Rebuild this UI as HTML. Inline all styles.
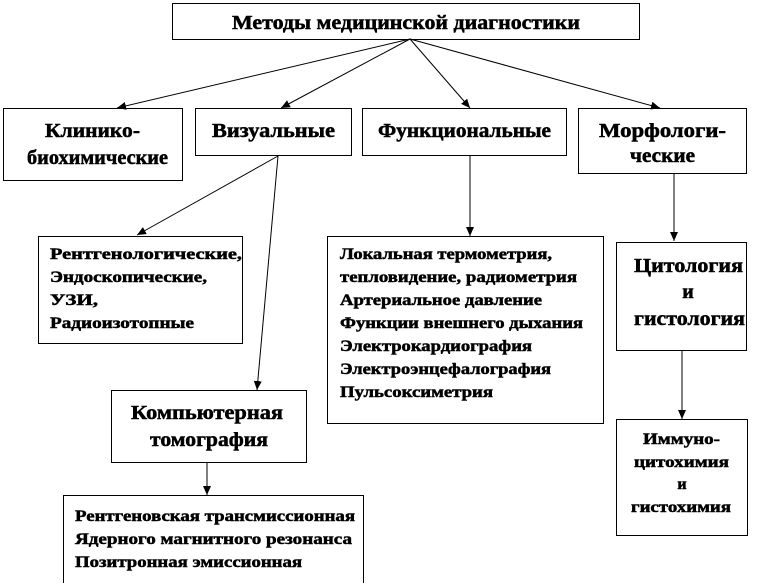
<!DOCTYPE html>
<html><head><meta charset="utf-8"><style>
html,body{margin:0;padding:0;background:#fff;}
svg text{font-family:"Liberation Serif","DejaVu Serif",serif;font-weight:bold;fill:#000;stroke:#000;stroke-width:0.5;}
.b{font-size:20px;}
.s{font-size:16px;}
</style></head><body>
<svg width="762" height="583" viewBox="0 0 762 583" xmlns="http://www.w3.org/2000/svg">
<defs><marker id="a" markerWidth="10" markerHeight="10" refX="9" refY="4" orient="auto" markerUnits="userSpaceOnUse"><path d="M0,0 L9,4 L0,8 z" fill="#000"/></marker></defs>
<g fill="#fff" stroke="#000" stroke-width="1">
<rect x="172.5" y="3.5" width="467" height="36"/>
<rect x="3.5" y="108.5" width="179" height="72"/>
<rect x="195.5" y="108.5" width="156" height="47"/>
<rect x="362.5" y="108.5" width="204" height="47"/>
<rect x="578.5" y="108.5" width="168" height="65"/>
<rect x="38.5" y="236.5" width="204" height="107"/>
<rect x="327.5" y="236.5" width="276" height="187"/>
<rect x="616.5" y="242.5" width="130" height="108"/>
<rect x="111.5" y="390.5" width="195" height="72"/>
<rect x="63.5" y="495.5" width="300" height="95"/>
<rect x="616.5" y="419.5" width="131" height="116"/>
</g>
<g stroke="#000" stroke-width="1" fill="none" marker-end="url(#a)">
<line x1="410" y1="39" x2="117" y2="108"/>
<line x1="410" y1="39" x2="281" y2="108"/>
<line x1="410" y1="39" x2="470" y2="108"/>
<line x1="410" y1="39" x2="660" y2="108"/>
<line x1="278" y1="156" x2="137" y2="235"/>
<line x1="278" y1="156" x2="257" y2="390"/>
<line x1="470" y1="156" x2="470" y2="236"/>
<line x1="674" y1="174" x2="674" y2="241"/>
<line x1="682" y1="351" x2="682" y2="419"/>
<line x1="207" y1="463" x2="207" y2="495"/>
</g>
<text class="b" x="232" y="29" textLength="348" lengthAdjust="spacingAndGlyphs">Методы медицинской диагностики</text>
<text class="b" x="45" y="137" textLength="95" lengthAdjust="spacingAndGlyphs">Клинико-</text>
<text class="b" x="27" y="164" textLength="141" lengthAdjust="spacingAndGlyphs">биохимические</text>
<text class="b" x="212" y="137" textLength="123" lengthAdjust="spacingAndGlyphs">Визуальные</text>
<text class="b" x="378" y="137" textLength="173" lengthAdjust="spacingAndGlyphs">Функциональные</text>
<text class="b" x="599" y="137" textLength="127" lengthAdjust="spacingAndGlyphs">Морфологи-</text>
<text class="b" x="630" y="162" textLength="65" lengthAdjust="spacingAndGlyphs">ческие</text>
<text class="s" x="50" y="259" textLength="192" lengthAdjust="spacingAndGlyphs">Рентгенологические,</text>
<text class="s" x="50" y="282" textLength="157" lengthAdjust="spacingAndGlyphs">Эндоскопические,</text>
<text class="s" x="50" y="305" textLength="48" lengthAdjust="spacingAndGlyphs">УЗИ,</text>
<text class="s" x="50" y="328" textLength="144" lengthAdjust="spacingAndGlyphs">Радиоизотопные</text>
<text class="s" x="340" y="259" textLength="212" lengthAdjust="spacingAndGlyphs">Локальная термометрия,</text>
<text class="s" x="340" y="282" textLength="237" lengthAdjust="spacingAndGlyphs">тепловидение, радиометрия</text>
<text class="s" x="340" y="305" textLength="202" lengthAdjust="spacingAndGlyphs">Артериальное давление</text>
<text class="s" x="340" y="328" textLength="243" lengthAdjust="spacingAndGlyphs">Функции внешнего дыхания</text>
<text class="s" x="340" y="351" textLength="192" lengthAdjust="spacingAndGlyphs">Электрокардиография</text>
<text class="s" x="340" y="374" textLength="211" lengthAdjust="spacingAndGlyphs">Электроэнцефалография</text>
<text class="s" x="340" y="397" textLength="153" lengthAdjust="spacingAndGlyphs">Пульсоксиметрия</text>
<text class="b" x="634" y="272" textLength="109" lengthAdjust="spacingAndGlyphs">Цитология</text>
<text class="b" x="688" y="298" text-anchor="middle">и</text>
<text class="b" x="634" y="325" textLength="111" lengthAdjust="spacingAndGlyphs">гистология</text>
<text class="b" x="131" y="419" textLength="152" lengthAdjust="spacingAndGlyphs">Компьютерная</text>
<text class="b" x="150" y="446" textLength="118" lengthAdjust="spacingAndGlyphs">томография</text>
<text class="s" x="75" y="521" textLength="280" lengthAdjust="spacingAndGlyphs">Рентгеновская трансмиссионная</text>
<text class="s" x="75" y="544" textLength="277" lengthAdjust="spacingAndGlyphs">Ядерного магнитного резонанса</text>
<text class="s" x="75" y="567" textLength="227" lengthAdjust="spacingAndGlyphs">Позитронная эмиссионная</text>
<text class="s" x="643" y="444" textLength="77" lengthAdjust="spacingAndGlyphs">Иммуно-</text>
<text class="s" x="634" y="467" textLength="95" lengthAdjust="spacingAndGlyphs">цитохимия</text>
<text class="s" x="682" y="489" text-anchor="middle">и</text>
<text class="s" x="631" y="512" textLength="100" lengthAdjust="spacingAndGlyphs">гистохимия</text>
</svg>
</body></html>
